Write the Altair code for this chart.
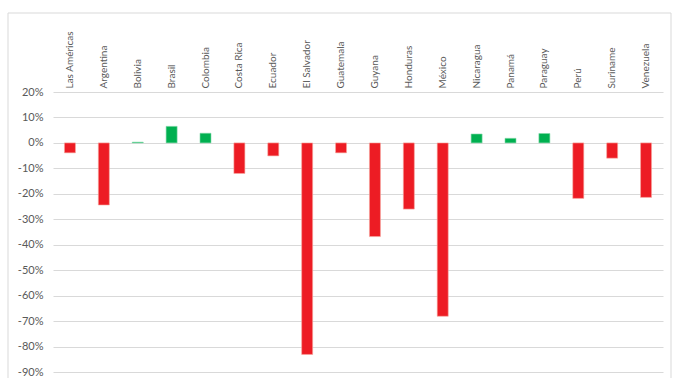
import altair as alt
import pandas as pd

# Percentage change by country
countries = [
    "Las Américas", "Argentina", "Bolivia", "Brasil", "Colombia", "Costa Rica",
    "Ecuador", "El Salvador", "Guatemala", "Guyana", "Honduras", "México",
    "Nicaragua", "Panamá", "Paraguay", "Perú", "Suriname", "Venezuela",
]
changes = [
    -0.039, -0.244, 0.003, 0.065, 0.038, -0.120,
    -0.051, -0.831, -0.039, -0.368, -0.260, -0.681,
    0.035, 0.018, 0.037, -0.218, -0.060, -0.214,
]
y_ticks = [0.2, 0.1, 0.0, -0.1, -0.2, -0.3, -0.4, -0.5, -0.6, -0.7, -0.8, -0.9]

df = pd.DataFrame({"pais": countries, "cambio": changes})
df["signo"] = ["pos" if v >= 0 else "neg" for v in changes]

W, H = 610, 280
FONT = "Lato"
GREY = "#595959"

# Outer chart border (outline only)
frame = alt.Chart(pd.DataFrame({"k": [0]})).mark_rect(
    fillOpacity=0, stroke="#d9d9d9", strokeWidth=1
).encode(
    x=alt.value(-45), x2=alt.value(618), y=alt.value(-79), y2=alt.value(300)
)

bars = alt.Chart(df).mark_bar(size=11, strokeWidth=0.6).encode(
    x=alt.X(
        "pais:N",
        sort=countries,
        scale=alt.Scale(paddingInner=0, paddingOuter=0),
        axis=alt.Axis(
            orient="top", title=None, labelAngle=-90, labelFont=FONT,
            labelFontSize=10, labelColor=GREY, ticks=False, domain=False,
            grid=False, labelPadding=4, labelAlign="left",
            labelBaseline="middle",
        ),
    ),
    y=alt.Y(
        "cambio:Q",
        scale=alt.Scale(domain=[-0.9, 0.2], nice=False, zero=True),
        axis=alt.Axis(
            values=y_ticks, title=None, ticks=False, domain=False, grid=True,
            labelFont=FONT, labelFontSize=11, labelColor=GREY, labelPadding=10,
            labelExpr="replace(format(datum.value, '.0%'), '\u2212', '-')",
            gridColor="#d9d9d9", gridWidth=1,
        ),
    ),
    color=alt.Color(
        "signo:N",
        scale=alt.Scale(domain=["pos", "neg"], range=["#00B050", "#ED1C24"]),
        legend=None,
    ),
    stroke=alt.Stroke(
        "signo:N",
        scale=alt.Scale(domain=["pos", "neg"], range=["#7fd8a7", "#f7a8a0"]),
        legend=None,
    ),
)

chart = alt.layer(frame, bars).properties(
    width=W, height=H,
    padding={"left": 53, "top": 92, "right": 10, "bottom": 6},
    autosize=alt.AutoSizeParams(type="none"),
).configure_view(stroke=None)

chart.save("out.html", embed_options={"renderer": "svg", "actions": False})
